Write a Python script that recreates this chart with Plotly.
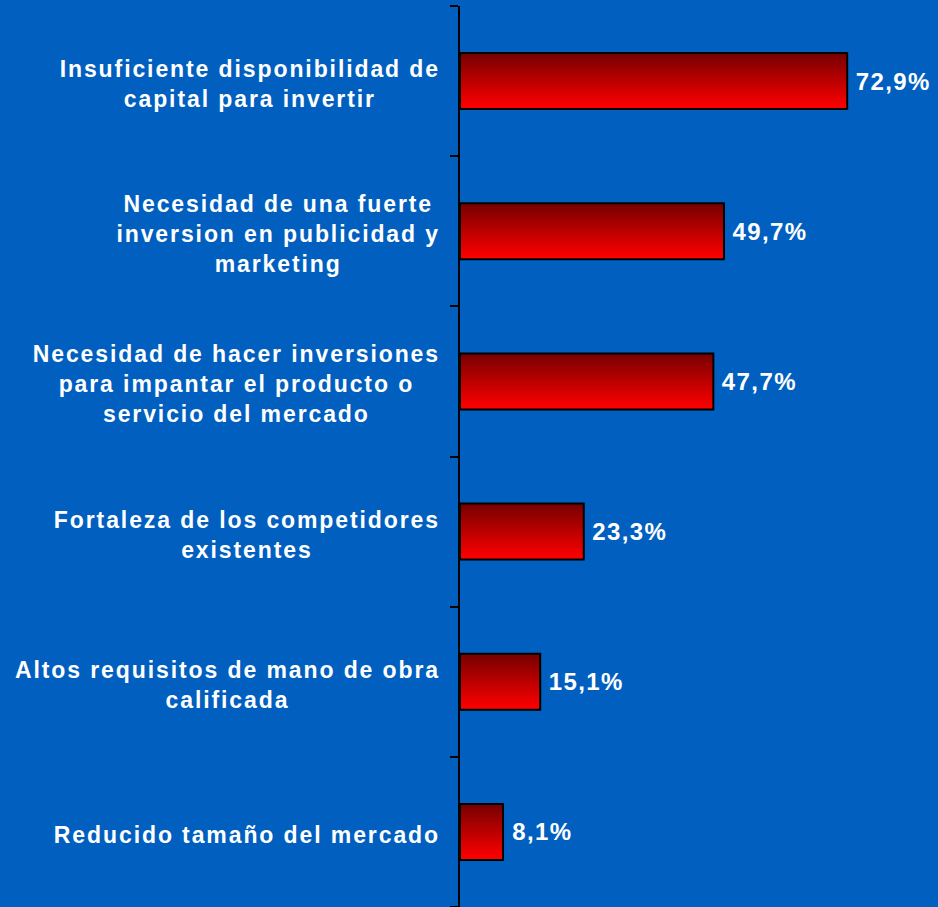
import plotly.graph_objects as go

categories = [
    "Insuficiente disponibilidad de<br>capital para invertir",
    "Necesidad de una fuerte<br>inversion en publicidad y<br>marketing",
    "Necesidad de hacer inversiones<br>para impantar el producto o<br>servicio del mercado",
    "Fortaleza de los competidores<br>existentes",
    "Altos requisitos de mano de obra<br>calificada",
    "Reducido tamaño del mercado",
]
values = [72.9, 49.7, 47.7, 23.3, 15.1, 8.1]

# bottom-first order for plotting
cats_plot = categories[::-1]
vals_plot = values[::-1]

BG = "#005FBF"
FONT = "Liberation Sans, Arial, sans-serif"
BAR_W = 0.373
N = 30
top_rgb = (120, 0, 0)
bot_rgb = (255, 0, 0)

fig = go.Figure()
step = BAR_W / N
for i in range(N):
    t = i / (N - 1)  # 0 bottom -> 1 top
    r = round(bot_rgb[0] + (top_rgb[0] - bot_rgb[0]) * t)
    g = round(bot_rgb[1] + (top_rgb[1] - bot_rgb[1]) * t)
    b = round(bot_rgb[2] + (top_rgb[2] - bot_rgb[2]) * t)
    w = step * 1.6 if i < N - 1 else step
    fig.add_trace(go.Bar(
        y=cats_plot, x=vals_plot, orientation="h",
        width=w, offset=-BAR_W / 2 + i * step,
        marker=dict(color=f"rgb({r},{g},{b})", line=dict(width=0)),
        hoverinfo="skip", showlegend=False,
    ))

fig.add_trace(go.Bar(
    y=cats_plot, x=vals_plot, orientation="h", width=BAR_W,
    marker=dict(color="rgba(0,0,0,0)", line=dict(color="black", width=2)),
    texttemplate="<b>%{x:.1f}%</b>", textposition="outside",
    textfont=dict(family=FONT, size=24, color="white"),
    cliponaxis=False, showlegend=False, hoverinfo="skip",
))

annotations = []
for c in cats_plot:
    annotations.append(dict(
        x=(440 - 460) / 478, xref="paper", y=c, yref="y", yshift=-3,
        text=f"<b>{c}</b>", showarrow=False, xanchor="right", yanchor="middle",
        align="center",
        font=dict(family=FONT, size=23, color="white"),
    ))

fig.update_layout(
    width=938, height=907,
    margin=dict(l=460, r=0, t=6, b=0),
    paper_bgcolor=BG, plot_bgcolor=BG,
    barmode="overlay",
    separators=",.",
    annotations=annotations,
    xaxis=dict(range=[0, 90], showgrid=False, zeroline=False, showticklabels=False,
               showline=False, fixedrange=True),
    yaxis=dict(type="category", categoryorder="array", categoryarray=cats_plot,
               showticklabels=False, showgrid=False, zeroline=False,
               showline=True, linecolor="black", linewidth=2,
               ticks="outside", tickson="boundaries", ticklen=8, tickcolor="black", tickwidth=2),
)

post = """
document.body.style.margin='0';
document.body.style.overflow='hidden';
document.querySelectorAll('.annotation-text').forEach(function(el){
  el.style.letterSpacing='1.9px';
  var r = el.getBoundingClientRect();
  var dx = 440 - r.right;
  var t = el.getAttribute('transform') || '';
  el.setAttribute('transform', t + ' translate(' + dx + ',0)');
});
document.querySelectorAll('.bartext').forEach(function(el){el.style.letterSpacing='1.4px'; el.setAttribute('dx','9');});
"""
fig.write_html("out.html", post_script=post, config={"displayModeBar": False})
